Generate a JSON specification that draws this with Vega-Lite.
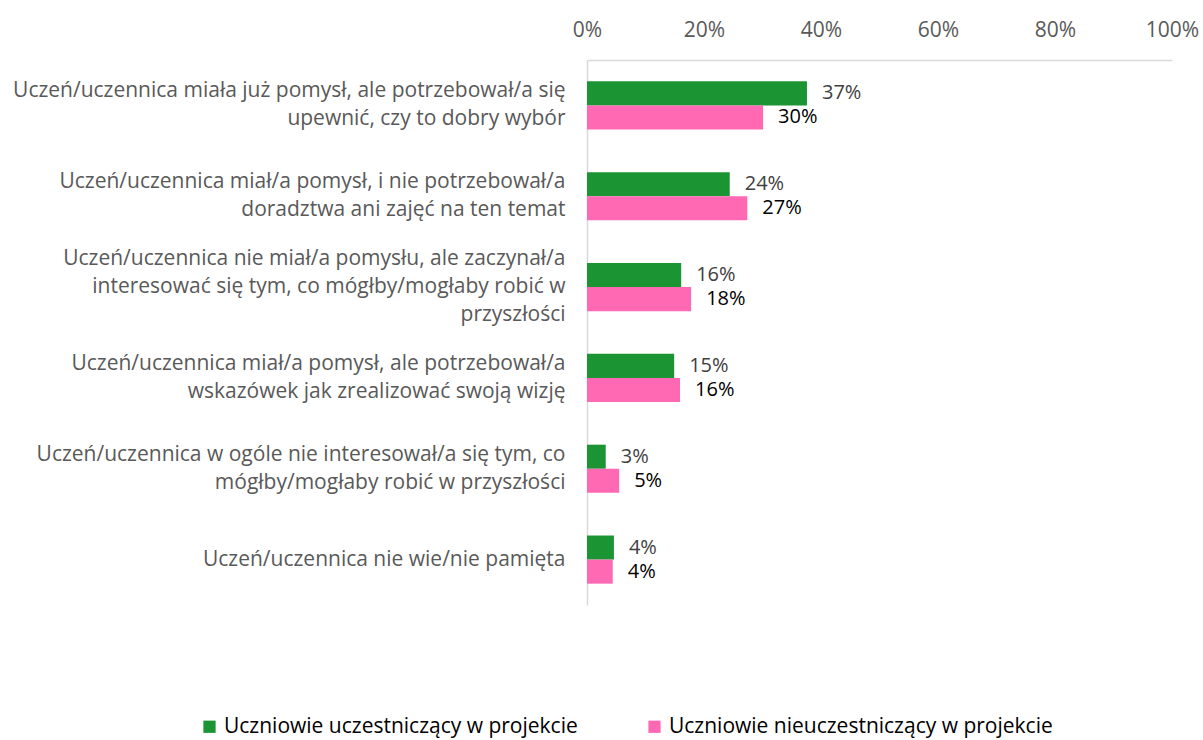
{
  "$schema": "https://vega.github.io/schema/vega-lite/v6.json",
  "width": 585,
  "height": 545,
  "autosize": "none",
  "padding": {"left": 587, "top": 60, "right": 31, "bottom": 135},
  "background": "white",
  "config": {"font": "Open Sans", "view": {"stroke": null}},
  "data": {
    "values": [
      {"q": "Uczeń/uczennica miała już pomysł, ale potrzebował/a się|upewnić, czy to dobry wybór", "series": "Uczniowie uczestniczący w projekcie", "value": 0.376, "label": "37%"},
      {"q": "Uczeń/uczennica miała już pomysł, ale potrzebował/a się|upewnić, czy to dobry wybór", "series": "Uczniowie nieuczestniczący w projekcie", "value": 0.301, "label": "30%"},
      {"q": "Uczeń/uczennica miał/a pomysł, i nie potrzebował/a|doradztwa ani zajęć na ten temat", "series": "Uczniowie uczestniczący w projekcie", "value": 0.244, "label": "24%"},
      {"q": "Uczeń/uczennica miał/a pomysł, i nie potrzebował/a|doradztwa ani zajęć na ten temat", "series": "Uczniowie nieuczestniczący w projekcie", "value": 0.274, "label": "27%"},
      {"q": "Uczeń/uczennica nie miał/a pomysłu, ale zaczynał/a|interesować się tym, co mógłby/mogłaby robić w|przyszłości", "series": "Uczniowie uczestniczący w projekcie", "value": 0.161, "label": "16%"},
      {"q": "Uczeń/uczennica nie miał/a pomysłu, ale zaczynał/a|interesować się tym, co mógłby/mogłaby robić w|przyszłości", "series": "Uczniowie nieuczestniczący w projekcie", "value": 0.178, "label": "18%"},
      {"q": "Uczeń/uczennica miał/a pomysł, ale potrzebował/a|wskazówek jak zrealizować swoją wizję", "series": "Uczniowie uczestniczący w projekcie", "value": 0.149, "label": "15%"},
      {"q": "Uczeń/uczennica miał/a pomysł, ale potrzebował/a|wskazówek jak zrealizować swoją wizję", "series": "Uczniowie nieuczestniczący w projekcie", "value": 0.159, "label": "16%"},
      {"q": "Uczeń/uczennica w ogóle nie interesował/a się tym, co|mógłby/mogłaby robić w przyszłości", "series": "Uczniowie uczestniczący w projekcie", "value": 0.032, "label": "3%"},
      {"q": "Uczeń/uczennica w ogóle nie interesował/a się tym, co|mógłby/mogłaby robić w przyszłości", "series": "Uczniowie nieuczestniczący w projekcie", "value": 0.055, "label": "5%"},
      {"q": "Uczeń/uczennica nie wie/nie pamięta", "series": "Uczniowie uczestniczący w projekcie", "value": 0.046, "label": "4%"},
      {"q": "Uczeń/uczennica nie wie/nie pamięta", "series": "Uczniowie nieuczestniczący w projekcie", "value": 0.044, "label": "4%"}
    ]
  },
  "encoding": {
    "y": {
      "field": "q", "type": "nominal", "sort": null,
      "scale": {"paddingInner": 0.47, "paddingOuter": 0.235},
      "axis": {
        "title": null, "ticks": false, "domainColor": "#d9d9d9", "domainWidth": 1.5,
        "labelFontSize": 21, "labelColor": "#595959", "labelPadding": 22,
        "labelLimit": 600, "labelLineHeight": 28,
        "labelExpr": "split(datum.label, '|')",
        "labelOffset": {"expr": "-(length(split(datum.value, '|')) - 1) * 14"}
      }
    },
    "yOffset": {
      "field": "series", "type": "nominal",
      "scale": {"domain": ["Uczniowie uczestniczący w projekcie", "Uczniowie nieuczestniczący w projekcie"]}
    },
    "x": {
      "field": "value", "type": "quantitative",
      "scale": {"domain": [0, 1], "nice": false},
      "axis": {
        "orient": "top", "title": null, "grid": false, "ticks": false,
        "domainColor": "#d9d9d9", "domainWidth": 1.5,
        "values": [0, 0.2, 0.4, 0.6, 0.8, 1], "format": ".0%",
        "labelFontSize": 21, "labelColor": "#595959", "labelPadding": 20, "labelFlush": false
      }
    }
  },
  "layer": [
    {
      "mark": {"type": "bar"},
      "encoding": {
        "color": {
          "field": "series", "type": "nominal",
          "scale": {"domain": ["Uczniowie uczestniczący w projekcie", "Uczniowie nieuczestniczący w projekcie"], "range": ["#1b9434", "#ff69b4"]},
          "legend": {
            "title": null, "orient": "none", "direction": "horizontal",
            "legendX": -388, "legendY": 656,
            "symbolType": "square", "symbolSize": 150, "symbolStrokeWidth": 0,
            "labelFontSize": 21, "labelColor": "#000000", "labelLimit": 600,
            "columnPadding": 66, "labelOffset": 4
          }
        }
      }
    },
    {
      "mark": {"type": "text", "align": "left", "baseline": "middle", "dx": 15, "fontSize": 20},
      "encoding": {
        "text": {"field": "label"},
        "color": {
          "field": "series", "type": "nominal",
          "scale": {"domain": ["Uczniowie uczestniczący w projekcie", "Uczniowie nieuczestniczący w projekcie"], "range": ["#404040", "#000000"]},
          "legend": null
        }
      }
    }
  ],
  "resolve": {"scale": {"color": "independent"}}
}
